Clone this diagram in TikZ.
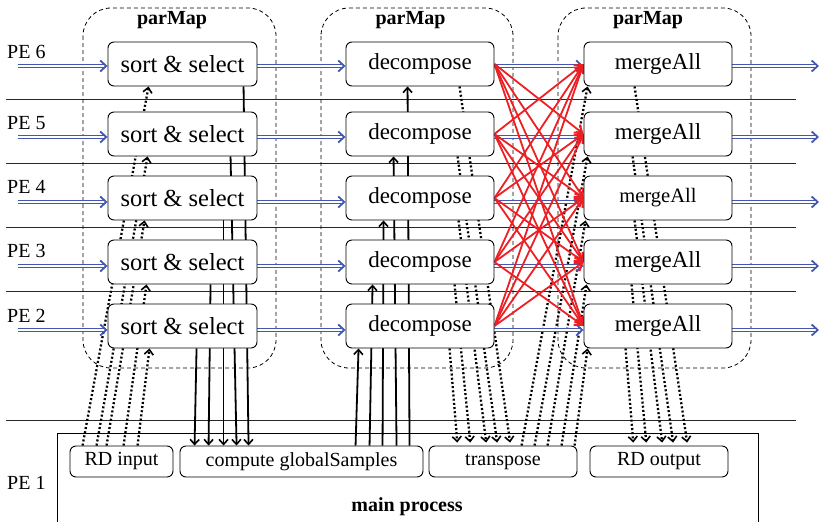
\documentclass[tikz,border=0pt]{standalone}
\usepackage{fontspec}
\setmainfont{Liberation Serif}
\usetikzlibrary{arrows.meta,calc}
\definecolor{peblue}{RGB}{66,86,178}
\definecolor{pered}{RGB}{236,32,36}
\pgfdeclarelayer{bg}
\pgfsetlayers{bg,main}
\begin{document}
\begin{tikzpicture}[x=1pt,y=-1pt,
  box/.style={draw, rounded corners=6pt, fill=white, line width=0.9pt, inner sep=0pt,
    minimum height=44pt, font=\fontsize{23}{27}\selectfont},
  sbox/.style={draw, rounded corners=6pt, fill=white, line width=0.9pt, inner sep=0pt,
    minimum height=31pt, font=\fontsize{20}{24}\selectfont},
  pelabel/.style={anchor=west, inner sep=0pt, font=\fontsize{20}{23}\selectfont},
  pmlabel/.style={inner sep=0pt, font=\fontsize{20}{24}\selectfont\bfseries},
  sepline/.style={line width=0.9pt, black!85},
  container/.style={draw, line width=0.8pt, dash pattern=on 4pt off 3pt, rounded corners=28pt},
  dotarrow/.style={line width=2.3pt, dash pattern=on 2pt off 2.2pt,
    -{Straight Barb[length=5pt,width=9pt,line width=1.6pt]}},
  solidarrow/.style={line width=1.8pt, -{Straight Barb[length=5pt,width=9pt,line width=1.6pt]}},
  bluearrow/.style={draw=peblue, line width=1pt, double=white, double distance=1.5pt,
    -{Straight Barb[length=6pt,width=11pt,line width=1.8pt]}},
  redarrow/.style={draw=pered, line width=1.8pt,
    -{Straight Barb[length=7pt,width=10pt,line width=2pt]}}
]
\useasboundingbox (0,0) rectangle (820,522);

% ---------- boxes ----------
\foreach \r/\y in {6/64,5/134,4/198,3/262,2/326}{
  \node[box, minimum width=149pt, font=\fontsize{24.5}{28}\selectfont] (s\r) at (182.5,\y) {sort \& select};
  \node[box, minimum width=148pt] (d\r) at (420,\y) {decompose};
}
\node[box, minimum width=148pt] (m6) at (658,64) {mergeAll};
\node[box, minimum width=148pt] (m5) at (658,134) {mergeAll};
\node[box, minimum width=148pt, font=\fontsize{20.5}{24}\selectfont] (m4) at (658,198) {mergeAll};
\node[box, minimum width=148pt] (m3) at (658,262) {mergeAll};
\node[box, minimum width=148pt] (m2) at (658,326) {mergeAll};

\node[sbox, minimum width=103pt] (rdin) at (121.5,461.5) {RD input};
\node[sbox, minimum width=243pt] (comp) at (301.5,461.5) {compute globalSamples};
\node[sbox, minimum width=148pt] (trans) at (503,461.5) {transpose};
\node[sbox, minimum width=138pt] (rdout) at (659,461.5) {RD output};

% ---------- labels ----------
\node[pelabel] (pe6) at (7,52) {PE 6};
\node[pelabel] (pe5) at (7,123) {PE 5};
\node[pelabel] (pe4) at (7,187) {PE 4};
\node[pelabel] (pe3) at (7,251) {PE 3};
\node[pelabel] (pe2) at (7,316) {PE 2};
\node[pelabel] (pe1) at (7,483) {PE 1};
\node[pmlabel] (pm1) at (172,20) {parMap};
\node[pmlabel] (pm2) at (410.5,20) {parMap};
\node[pmlabel] (pm3) at (648,20) {parMap};
\node[pmlabel] (mainp) at (407,507) {main process};

% free ends of the blue arrows
\foreach \r/\y in {6/66,5/137,4/202,3/266,2/330}{
  \coordinate (in\r) at (18,\y);
  \coordinate (out\r) at (819,\y);
}

\begin{pgfonlayer}{bg}
  % separators
  \foreach \y in {99,163,227,291,420}
    \draw[sepline] (6,\y) -- (796,\y);
  % parMap containers
  \draw[container] (83,8) rectangle (276,368);
  \draw[container] (321,8) rectangle (513,368);
  \draw[container] (558,8) rectangle (751,368);
  % main process frame
  \draw[line width=0.9pt] (57,523) |- (758,433) -- (758,523);

  % RD input -> sort & select
  \foreach \r/\a/\b in {6/13/41,5/27/40,4/37/37,3/54/39,2/68/42}
    \draw[dotarrow] ([xshift=\a pt]rdin.north west) -- ([xshift=\b pt]s\r.south west);
  % sort & select -> compute globalSamples
  \foreach \r/\a/\b in {6/136/69,5/123/57,4/116/44,3/103/29,2/89/15}
    \draw[solidarrow] ([xshift=\a pt]s\r.south west) -- ([xshift=\b pt]comp.north west);
  % compute globalSamples -> decompose
  \foreach \r/\a/\b in {2/176/13,3/190/27,4/203/38,5/217/48,6/230/62}
    \draw[solidarrow] ([xshift=\a pt]comp.north west) -- ([xshift=\b pt]d\r.south west);
  % decompose -> transpose
  \foreach \r/\a/\b in {6/114/82,5/112/69,4/113/58,3/109/42,2/104/29}
    \draw[dotarrow, shorten >=3pt] ([xshift=\a pt]d\r.south west) -- ([xshift=\b pt]trans.north west);
  % transpose -> mergeAll
  \foreach \r/\a/\b in {6/93/4,5/106/4,4/119/2,3/133/3,2/146/4}
    \draw[dotarrow] ([xshift=\a pt]trans.north west) -- ([xshift=\b pt]m\r.south west);
  % mergeAll -> RD output
  \foreach \r/\a/\b in {6/51/98,5/49/84,4/51/73,3/48/57,2/42/44}
    \draw[dotarrow, shorten >=3pt] ([xshift=\a pt]m\r.south west) -- ([xshift=\b pt]rdout.north west);

  % blue data flow
  \foreach \r in {6,5,4,3,2}{
    \draw[bluearrow] (in\r) -- (s\r.west |- in\r);
    \draw[bluearrow] (s\r.east |- in\r) -- (d\r.west |- in\r);
    \draw[bluearrow] (d\r.east |- in\r) -- (m\r.west |- in\r);
    \draw[bluearrow] (m\r.east |- in\r) -- (out\r);
  }
  % red all-to-all exchange
  \foreach \i in {2,...,6}
    \foreach \j in {2,...,6}{
      \ifnum\i=\j\else
        \draw[redarrow] (d\i.east) -- (m\j.west);
      \fi
    }
\end{pgfonlayer}
\end{tikzpicture}
\end{document}
